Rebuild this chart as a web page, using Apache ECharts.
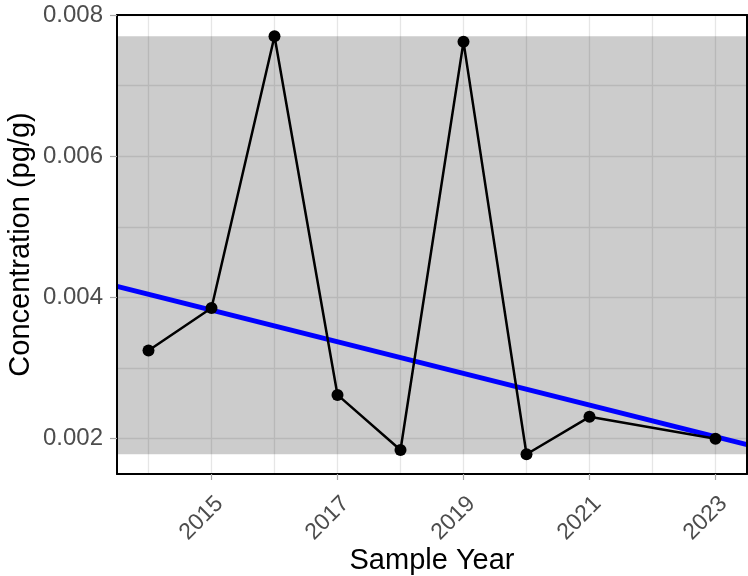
<!DOCTYPE html>
<html>
<head>
<meta charset="utf-8">
<script src="https://cdn.jsdelivr.net/npm/echarts@6/dist/echarts.min.js"></script>
<style>
html,body{margin:0;padding:0;background:#fff;}
#chart{width:748px;height:576px;}
</style>
</head>
<body>
<div id="chart"></div>
<script>
// ---- data ----
const years = [2014, 2015, 2016, 2017, 2018, 2019, 2020, 2021, 2023];
const concentration = [0.00325, 0.00385, 0.00770, 0.00262, 0.00184, 0.00762, 0.00178, 0.00231, 0.00200];
const trendYears = [2013.5, 2023.5];
const trendValues = [0.004156, 0.001915];
const xTickLabels = [2015, 2017, 2019, 2021, 2023];
const xGridYears = [2014, 2015, 2016, 2017, 2018, 2019, 2020, 2021, 2022, 2023];
const yTickLabels = [0.002, 0.004, 0.006, 0.008];
const yGridValues = [0.002, 0.003, 0.004, 0.005, 0.006, 0.007, 0.008];
const xRange = [2013.5, 2023.5];
const yRange = [0.0015, 0.008];

const bandLow = Math.min.apply(null, concentration);
const bandHigh = Math.max.apply(null, concentration);

const FONT = "'Liberation Sans', Arial, Helvetica, sans-serif";
const gridLine = { show: true, lineStyle: { color: '#e6e6e6', width: 1.3 } };
const frameLine = { show: true, onZero: false, lineStyle: { color: '#000000', width: 2 } };

const chart = echarts.init(document.getElementById('chart'), null, { renderer: 'canvas' });
chart.setOption({
  animation: false,
  backgroundColor: '#ffffff',
  textStyle: { fontFamily: FONT },
  grid: {
    left: 117, right: 1, top: 15, bottom: 102,
    containLabel: false, outerBoundsMode: 'none',
    show: false
  },
  xAxis: [
    {
      type: 'value', min: xRange[0], max: xRange[1],
      axisLine: { show: false },
      axisTick: { show: false, customValues: xGridYears },
      axisLabel: { show: false, customValues: xGridYears },
      splitLine: gridLine
    },
    {
      type: 'value', min: xRange[0], max: xRange[1], position: 'bottom', z: 6,
      axisLine: frameLine,
      axisTick: { show: true, customValues: xTickLabels, length: 6, lineStyle: { color: '#a6a6a6', width: 1.2 } },
      axisLabel: {
        show: true, customValues: xTickLabels, rotate: 45, margin: 18,
        verticalAlign: 'top',
        color: '#4d4d4d', fontSize: 23, fontFamily: FONT,
        formatter: v => String(v)
      },
      splitLine: { show: false },
      name: 'Sample Year', nameLocation: 'middle', nameGap: 72, nameMoveOverlap: false,
      nameTextStyle: { color: '#000000', fontSize: 29, fontFamily: FONT, verticalAlign: 'top' }
    },
    {
      type: 'value', min: xRange[0], max: xRange[1], position: 'top', z: 6,
      axisLine: frameLine, axisTick: { show: false }, axisLabel: { show: false }, splitLine: { show: false }
    }
  ],
  yAxis: [
    {
      type: 'value', min: yRange[0], max: yRange[1],
      axisLine: { show: false },
      axisTick: { show: false, customValues: yGridValues },
      axisLabel: { show: false, customValues: yGridValues },
      splitLine: gridLine
    },
    {
      type: 'value', min: yRange[0], max: yRange[1], position: 'left', z: 6,
      axisLine: frameLine,
      axisTick: { show: true, customValues: yTickLabels, length: 7, lineStyle: { color: '#a6a6a6', width: 1.2 } },
      axisLabel: {
        show: true, customValues: yTickLabels, margin: 14,
        color: '#4d4d4d', fontSize: 24, fontFamily: FONT,
        formatter: v => v.toFixed(3)
      },
      splitLine: { show: false },
      name: 'Concentration (pg/g)', nameLocation: 'middle', nameGap: 82, nameRotate: 90, nameMoveOverlap: false,
      nameTextStyle: { color: '#000000', fontSize: 29, fontFamily: FONT }
    },
    {
      type: 'value', min: yRange[0], max: yRange[1], position: 'right', z: 6,
      axisLine: frameLine, axisTick: { show: false }, axisLabel: { show: false }, splitLine: { show: false }
    }
  ],
  series: [
    {
      name: 'trend', type: 'line', xAxisIndex: 0, yAxisIndex: 0, z: 3,
      data: trendYears.map((x, i) => [x, trendValues[i]]),
      symbol: 'none', silent: true,
      lineStyle: { color: '#0000ff', width: 5 }
    },
    {
      name: 'concentration', type: 'line', xAxisIndex: 0, yAxisIndex: 0, z: 4,
      data: years.map((x, i) => [x, concentration[i]]),
      symbol: 'circle', symbolSize: 12, silent: true,
      itemStyle: { color: '#000000' },
      lineStyle: { color: '#000000', width: 2.5 },
      markArea: {
        silent: true,
        itemStyle: { color: 'rgba(0,0,0,0.2)' },
        data: [[{ yAxis: bandLow }, { yAxis: bandHigh }]]
      }
    }
  ]
});
</script>
</body>
</html>
